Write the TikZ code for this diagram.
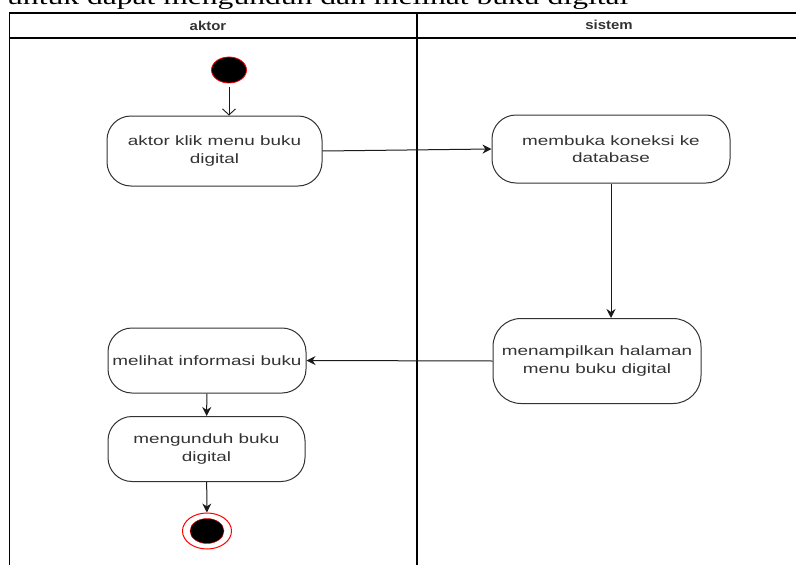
\documentclass[tikz,border=0pt]{standalone}
\usepackage{fontspec}
\usepackage{xcolor}
\usetikzlibrary{arrows.meta, positioning, shapes.geometric}
\newfontfamily\lanefont[FakeStretch=1.4]{Liberation Sans}
\newfontfamily\headfont[FakeStretch=1.15]{Liberation Sans}
\newfontfamily\titlefont[FakeStretch=1.35]{Liberation Serif}
\definecolor{ink}{HTML}{333333}
\definecolor{edge}{HTML}{1A1A1A}
\definecolor{startred}{HTML}{FF0000}
\tikzset{
  act/.style={
    rectangle, rounded corners=24pt,
    draw=ink, fill=white, line width=1pt, inner sep=0pt,
    align=center, text=ink, font=\lanefont\fontsize{13.5}{17.5}\selectfont
  },
  lanehead/.style={font=\headfont\bfseries\fontsize{13}{15}\selectfont, text=ink},
  laneline/.style={draw=black, line width=1.2pt},
  divider/.style={draw=black, line width=2.6pt},
  initial/.style={ellipse, fill=black, draw=startred, line width=0.8pt,
                  minimum width=35pt, minimum height=26pt, inner sep=0pt},
  final/.style={ellipse, fill=white, draw=startred, line width=1pt,
                minimum width=49pt, minimum height=36pt, inner sep=0pt},
  finaldot/.style={ellipse, fill=black, draw=startred, line width=0.4pt,
                   minimum width=34pt, minimum height=25pt, inner sep=0pt},
  flow/.style={-{Stealth[length=9pt,width=9pt]}, line width=1pt, draw=edge},
  openflow/.style={-{Straight Barb[length=6pt,width=13pt]}, line width=0.9pt, draw=edge},
}
\begin{document}
\begin{tikzpicture}[x=1pt, y=-1pt]
  \useasboundingbox (0,0) rectangle (796,565);
  \clip (0,0) rectangle (796,565);

  % title line, cut off at the top
  \node[anchor=base west, inner sep=0pt, font=\titlefont\fontsize{23.4}{28}\selectfont]
    (title) at (7,4.5) {untuk dapat mengunduh dan melihat buku digital};

  % swimlanes
  \draw[laneline] (9.5,13) rectangle (830,620);
  \draw[laneline] (9.5,38) -- (830,38);
  \draw[divider] (417,13) -- (417,620);
  \node[lanehead] (hdaktor) at (208,26) {aktor};
  \node[lanehead] (hdsistem) at (609,25) {sistem};

  % activities
  \node[initial] (start) at (229,70) {};
  \node[act, minimum width=215pt, minimum height=70pt] (a1) at (214.5,151)
    {aktor klik menu buku\\digital};
  \node[act, minimum width=238pt, minimum height=68pt] (b1) at (611,149)
    {membuka koneksi ke\\database};
  \node[act, minimum width=208pt, minimum height=85pt, rounded corners=28pt] (b2) at (597,361)
    {menampilkan halaman\\menu buku digital};
  \node[act, minimum width=198pt, minimum height=65pt] (a2) at (207,360.5)
    {melihat informasi buku};
  \node[act, minimum width=197pt, minimum height=65pt] (a3) at (206.5,449)
    {mengunduh buku\\digital};
  \node[final] (stop) at (207,531) {};
  \node[finaldot] (stopdot) at (stop) {};

  % flows
  \draw[openflow] ([yshift=-4pt]start.south) -- (start |- a1.north);
  \draw[flow] (a1.east) -- (b1.west);
  \draw[flow] (b1.south) -- (b1.south |- b2.north);
  \draw[flow] (b2.west) -- (a2.east);
  \draw[flow] (a2) -- (a3);
  \draw[flow] (a3) -- (stop);
\end{tikzpicture}
\end{document}
